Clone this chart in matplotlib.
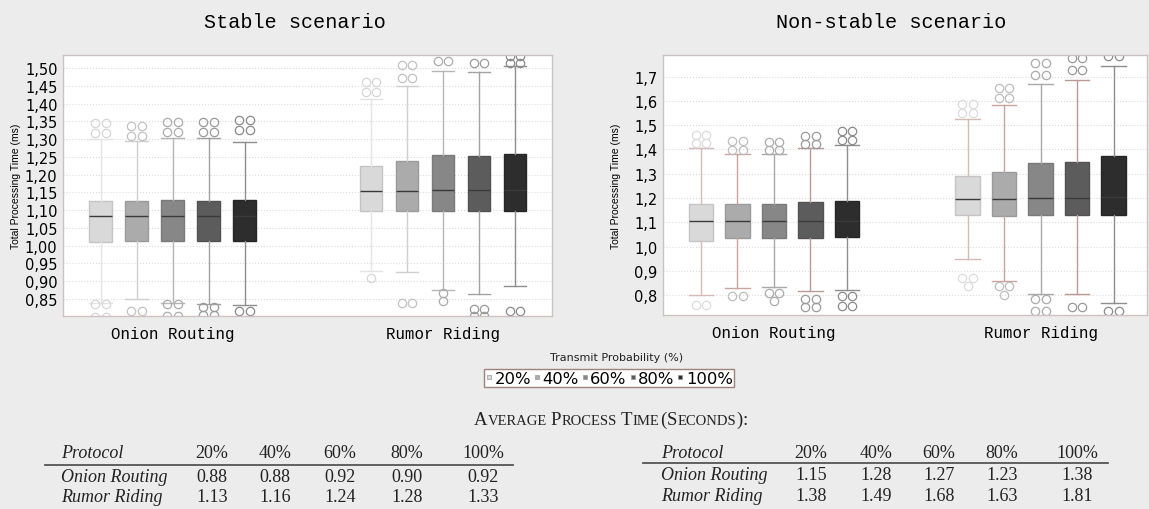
import matplotlib.pyplot as plt
from matplotlib.lines import Line2D

# ------------------------------------------------------------
# DATA
# ------------------------------------------------------------

groups = ["Onion Routing", "Rumor Riding"]
probs = ["20%", "40%", "60%", "80%", "100%"]

# stable scenario, box statistics (ms)
st_or_lo = [0.840, 0.850, 0.840, 0.837, 0.833]
st_or_q1 = [1.011, 1.012, 1.014, 1.014, 1.014]
st_or_med = [1.083, 1.083, 1.083, 1.083, 1.083]
st_or_q3 = [1.127, 1.125, 1.129, 1.127, 1.130]
st_or_hi = [1.301, 1.296, 1.303, 1.303, 1.293]

st_rr_lo = [0.928, 0.925, 0.876, 0.864, 0.887]
st_rr_q1 = [1.099, 1.099, 1.099, 1.097, 1.097]
st_rr_med = [1.155, 1.155, 1.158, 1.158, 1.158]
st_rr_q3 = [1.224, 1.238, 1.254, 1.252, 1.258]
st_rr_hi = [1.412, 1.451, 1.491, 1.489, 1.505]

# outliers drawn as a pair of circles / as a single circle
st_or_out2 = [[1.346, 1.317, 0.837, 0.800], [1.338, 1.310, 0.817],
              [1.348, 1.320, 0.836, 0.803], [1.348, 1.320, 0.828, 0.805],
              [1.354, 1.327, 0.815]]
st_or_out1 = [[], [], [], [], []]
st_rr_out2 = [[1.462, 1.432], [1.509, 1.473, 0.840], [1.519],
              [1.515, 0.823, 0.803], [1.534, 1.515, 0.815]]
st_rr_out1 = [[0.910], [], [0.867, 0.845], [], []]

# non-stable scenario, box statistics (ms)
ns_or_lo = [0.800, 0.829, 0.832, 0.815, 0.822]
ns_or_q1 = [1.021, 1.035, 1.035, 1.034, 1.038]
ns_or_med = [1.107, 1.107, 1.107, 1.107, 1.107]
ns_or_q3 = [1.175, 1.175, 1.175, 1.182, 1.189]
ns_or_hi = [1.405, 1.381, 1.381, 1.405, 1.418]

ns_rr_lo = [0.949, 0.857, 0.804, 0.803, 0.766]
ns_rr_q1 = [1.131, 1.127, 1.131, 1.131, 1.131]
ns_rr_med = [1.195, 1.195, 1.199, 1.199, 1.204]
ns_rr_q3 = [1.289, 1.309, 1.344, 1.350, 1.374]
ns_rr_hi = [1.526, 1.582, 1.670, 1.688, 1.743]

ns_or_out2 = [[1.460, 1.425, 0.760], [1.434, 1.399, 0.798],
              [1.432, 1.398, 0.807], [1.457, 1.423, 0.784, 0.752],
              [1.475, 1.440, 0.798, 0.754]]
ns_or_out1 = [[], [], [0.774], [], []]
ns_rr_out2 = [[1.587, 1.550, 0.870], [1.652, 1.611, 0.839],
              [1.756, 1.708, 0.784, 0.736], [1.777, 1.727, 0.749],
              [1.785, 0.736]]
ns_rr_out1 = [[0.836], [0.800], [], [], []]

# average process time tables (seconds)
st_avg_or = ["0.88", "0.88", "0.92", "0.90", "0.92"]
st_avg_rr = ["1.13", "1.16", "1.24", "1.28", "1.33"]
ns_avg_or = ["1.15", "1.28", "1.27", "1.23", "1.38"]
ns_avg_rr = ["1.38", "1.49", "1.68", "1.63", "1.81"]

st_ticks = [0.85, 0.90, 0.95, 1.00, 1.05, 1.10, 1.15, 1.20, 1.25, 1.30,
            1.35, 1.40, 1.45, 1.50]
ns_ticks = [0.8, 0.9, 1.0, 1.1, 1.2, 1.3, 1.4, 1.5, 1.6, 1.7]

# ------------------------------------------------------------
# STYLE
# ------------------------------------------------------------

W, H = 1149, 510
BG = "#ececec"
MONO = "Liberation Mono"
SERIF = "Liberation Serif"

fills = ["#d9d9d9", "#ababab", "#878787", "#5c5c5c", "#2d2d2d"]
edges = ["#c4c4c4", "#9a9a9a", "#7a7a7a", "#525252", "#262626"]
st_wcol = ["#e4e4e4", "#cfcfcf", "#b5b5b5", "#a2a2a2", "#8e8e8e"]
ns_wcol = ["#d6bab5", "#c9a49f", "#a9a9a9", "#bb9994", "#8e8e8e"]
st_fcol = ["#d6d6d6", "#c2c2c2", "#acacac", "#9a9a9a", "#8a8a8a"]
ns_fcol = ["#dcdcdc", "#bdbdbd", "#ababab", "#9a9a9a", "#8a8a8a"]


def px(x, y):
    return x / W, 1 - y / H


fig = plt.figure(figsize=(W / 100, H / 100), dpi=100, facecolor=BG)


def draw_panel(ax, stats, out2, out1, wcol, fcol, step, width, dx):
    for g in range(2):
        lo, q1, med, q3, hi = stats[g]
        for i in range(5):
            pos = g + (i - 2) * step
            st = dict(whislo=lo[i], q1=q1[i], med=med[i], q3=q3[i],
                      whishi=hi[i], fliers=[])
            ax.bxp([st], positions=[pos], widths=[width], capwidths=[width],
                   patch_artist=True, showfliers=False,
                   boxprops=dict(facecolor=fills[i], edgecolor=edges[i], lw=1),
                   medianprops=dict(color="#3a3a3a", lw=1),
                   whiskerprops=dict(color=wcol[i], lw=1),
                   capprops=dict(color=wcol[i], lw=1))
            for v in out2[g][i]:
                ax.plot([pos - dx, pos + dx], [v, v], ls="", marker="o", ms=6,
                        mfc="none", mec=fcol[i], mew=0.9)
            for v in out1[g][i]:
                ax.plot([pos], [v], ls="", marker="o", ms=6,
                        mfc="none", mec=fcol[i], mew=0.9)
    ax.set_xticks([0, 1])
    ax.set_xticklabels(groups, family=MONO, fontsize=11.3)
    ax.tick_params(axis="x", length=0, pad=7)
    ax.tick_params(axis="y", length=0, pad=4, labelsize=10.5)
    ax.yaxis.grid(True, ls=":", lw=0.8, color="#dcdcdc")
    ax.set_axisbelow(True)
    for s in ax.spines.values():
        s.set_color("#cbc3c1")
        s.set_linewidth(1)
    ax.set_ylabel("Total Processing Time (ms)", family="Liberation Sans",
                  fontsize=7.5)


# ---------------- stable scenario ----------------
ax1 = fig.add_axes([63 / W, 1 - 317 / H, 489 / W, 261 / H])
draw_panel(ax1,
           [(st_or_lo, st_or_q1, st_or_med, st_or_q3, st_or_hi),
            (st_rr_lo, st_rr_q1, st_rr_med, st_rr_q3, st_rr_hi)],
           [st_or_out2, st_rr_out2], [st_or_out1, st_rr_out1],
           st_wcol, st_fcol, 0.1331, 0.085, 0.02)
ax1.set_xlim(-0.405, 1.403)
ax1.set_ylim(0.802, 1.537)
ax1.set_yticks(st_ticks)
ax1.set_yticklabels([f"{t:.2f}".replace(".", ",") for t in st_ticks])
ax1.yaxis.set_label_coords(-0.086, 0.5)
fig.text(*px(295, 23), "Stable scenario", family=MONO, fontsize=14.5,
         ha="center", va="center")

# ---------------- non-stable scenario ----------------
ax2 = fig.add_axes([663 / W, 1 - 316 / H, 484 / W, 260 / H])
draw_panel(ax2,
           [(ns_or_lo, ns_or_q1, ns_or_med, ns_or_q3, ns_or_hi),
            (ns_rr_lo, ns_rr_q1, ns_rr_med, ns_rr_q3, ns_rr_hi)],
           [ns_or_out2, ns_rr_out2], [ns_or_out1, ns_rr_out1],
           ns_wcol, ns_fcol, 0.137, 0.092, 0.02)
ax2.set_xlim(-0.416, 1.399)
ax2.set_ylim(0.718, 1.789)
ax2.set_yticks(ns_ticks)
ax2.set_yticklabels([f"{t:.1f}".replace(".", ",") for t in ns_ticks])
ax2.yaxis.set_label_coords(-0.086, 0.5)
fig.text(*px(891, 23), "Non-stable scenario", family=MONO, fontsize=14.5,
         ha="center", va="center")

# ---------------- legend ----------------
fig.text(*px(617, 358), "Transmit Probability (%)", fontsize=8,
         ha="center", va="center", color="#222222")
handles = [Line2D([], [], ls="", marker="s", ms=3.5, mfc=fills[i],
                  mec="#999999", mew=0.5) for i in range(5)]
fig.legend(handles, probs, ncol=5, loc="center", bbox_to_anchor=px(609, 379),
           prop=dict(size=11.8), handlelength=0.45,
           handletextpad=0.1, columnspacing=0.15, borderpad=0.1,
           borderaxespad=0, fancybox=False, framealpha=1, facecolor="white",
           edgecolor="#9c8479")

# ---------------- table heading (small caps) ----------------
parts = [("A", 13.5, 0), ("VERAGE", 10.5, 4), ("P", 13.5, 0), ("ROCESS", 10.5, 4),
         ("T", 13.5, 0), ("IME", 10.5, 1), ("(", 13.5, 1), ("S", 13.5, 0),
         ("ECONDS", 10.5, 0), (")", 13.5, 0), (":", 13.5, 0)]
r = fig.canvas.get_renderer()
htexts = [fig.text(0, 1 - 425 / H, s, family=SERIF, fontsize=sz,
                   va="baseline", color="#222222") for s, sz, _ in parts]
widths = [t.get_window_extent(r).width for t in htexts]
total = sum(widths) + sum(p[2] for p in parts)
x = 611 - total / 2
for t, w, p in zip(htexts, widths, parts):
    t.set_x(x / W)
    x += w + p[2]

# ---------------- tables ----------------


def draw_table(x_label, cols, ys, rule, avg_or, avg_rr):
    y_head, y_rule, y_or, y_rr = ys
    kw = dict(family=SERIF, fontsize=13, va="center", color="#222222")
    fig.text(*px(x_label, y_head), "Protocol", style="italic", **kw)
    fig.text(*px(x_label, y_or), "Onion Routing", style="italic", **kw)
    fig.text(*px(x_label, y_rr), "Rumor Riding", style="italic", **kw)
    for c, p, a, b in zip(cols, probs, avg_or, avg_rr):
        fig.text(*px(c, y_head), p, ha="center", **kw)
        fig.text(*px(c, y_or), a, ha="center", **kw)
        fig.text(*px(c, y_rr), b, ha="center", **kw)
    x0, y0 = px(rule[0], y_rule)
    x1, _ = px(rule[1], y_rule)
    fig.add_artist(Line2D([x0, x1], [y0, y0], color="#555555", lw=1.3))


draw_table(61, [212, 275, 340, 407, 483], [454, 466, 478, 498], (45, 513),
           st_avg_or, st_avg_rr)
draw_table(661, [811, 876, 939, 1002, 1077], [454, 464, 476, 497], (643, 1108),
           ns_avg_or, ns_avg_rr)

fig.savefig("out.png", dpi=100, facecolor=BG)
